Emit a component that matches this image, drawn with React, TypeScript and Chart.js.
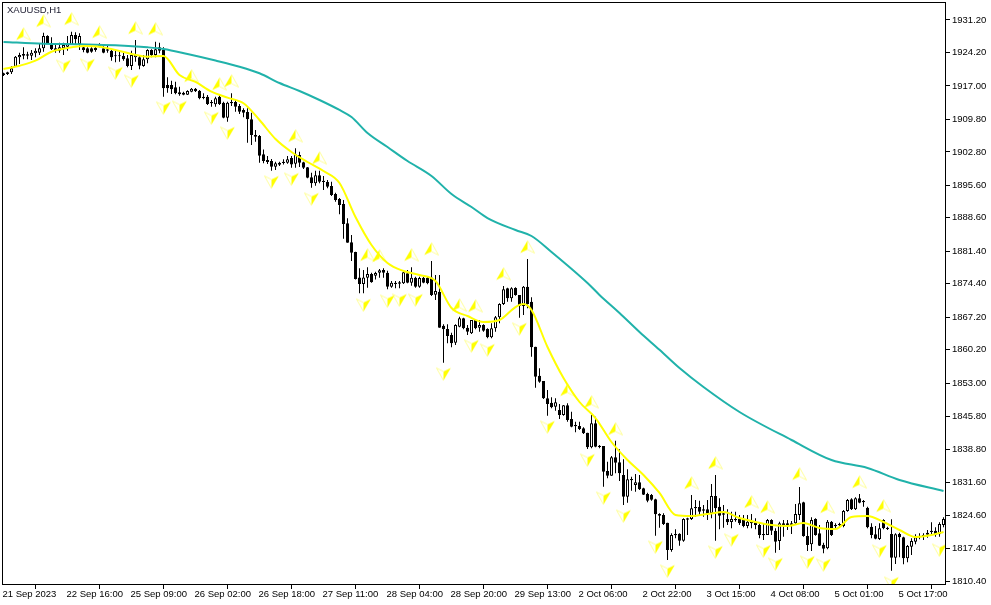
import React, { useEffect, useRef } from "react";
import { Chart, registerables } from "chart.js";

Chart.register(...registerables);

const chartTitle = "XAUUSD,H1";
const timeLabels = ["21 Sep 2023", "22 Sep 16:00", "25 Sep 09:00", "26 Sep 02:00", "26 Sep 18:00", "27 Sep 11:00", "28 Sep 04:00", "28 Sep 20:00", "29 Sep 13:00", "2 Oct 06:00", "2 Oct 22:00", "3 Oct 15:00", "4 Oct 08:00", "5 Oct 01:00", "5 Oct 17:00"];
const timeLabelStep = 16;
const priceTicks = [1931.2, 1924.2, 1917.0, 1909.8, 1902.8, 1895.6, 1888.6, 1881.4, 1874.4, 1867.2, 1860.2, 1853.0, 1845.8, 1838.8, 1831.6, 1824.6, 1817.4, 1810.4];

const opens = [
  1919.71, 1919.93, 1919.93, 1921.15, 1923.16, 1923.87, 1923.8, 1923.51, 1924.02, 1924.16,
  1925.09, 1927.75, 1925.81, 1925.09, 1924.59, 1925.09, 1925.45, 1925.81, 1927.96, 1926.03,
  1925.31, 1925.09, 1925.09, 1925.24, 1925.52, 1925.09, 1924.88, 1924.59, 1923.59, 1923.59,
  1923.44, 1922.94, 1921.29, 1923.16, 1923.16, 1921.29, 1922.72, 1924.73, 1923.66, 1925.31,
  1924.73, 1917.2, 1917.2, 1916.7, 1915.62, 1915.55, 1915.12, 1915.76, 1916.41, 1915.98,
  1914.69, 1914.69, 1913.54, 1913.04, 1914.69, 1913.39, 1910.17, 1913.54, 1913.54, 1912.68,
  1911.82, 1911.39, 1909.8, 1906.43, 1906.21, 1902.27, 1901.05, 1900.83, 1899.61, 1900.47,
  1900.4, 1900.47, 1901.48, 1900.26, 1902.12, 1900.55, 1899.47, 1897.32, 1896.02, 1897.75,
  1896.6, 1896.31, 1895.45, 1893.73, 1892.65, 1891.57, 1887.41, 1883.32, 1881.24, 1875.78,
  1874.35, 1875.71, 1876.5, 1876.14, 1876.79, 1877.36, 1876.79, 1873.77, 1874.64, 1874.71,
  1874.49, 1876.65, 1874.64, 1875.71, 1873.77, 1875.71, 1875.71, 1875.78, 1872.05, 1872.7,
  1865.38, 1864.66, 1863.37, 1861.72, 1865.17, 1866.96, 1864.95, 1863.73, 1866.6, 1864.95,
  1865.53, 1864.66, 1862.87, 1864.81, 1867.18, 1870.05, 1873.42, 1871.27, 1873.49, 1871.99,
  1869.62, 1873.78, 1870.55, 1860.86, 1854.62, 1853.47, 1849.74, 1848.81, 1847.95, 1847.23,
  1846.15, 1848.23, 1845.29, 1844.0, 1843.78, 1843.28, 1842.35, 1839.19, 1844.36, 1839.55,
  1839.48, 1834.09, 1833.09, 1837.04, 1835.96, 1833.23, 1828.57, 1832.37, 1831.08, 1831.65,
  1830.36, 1829.14, 1828.93, 1827.99, 1824.84, 1824.62, 1822.97, 1817.08, 1820.53, 1820.6,
  1819.09, 1823.9, 1823.76, 1826.34, 1826.34, 1825.84, 1825.84, 1824.98, 1828.71, 1826.41,
  1824.98, 1823.76, 1823.11, 1823.76, 1823.76, 1823.76, 1822.25, 1823.19, 1823.04, 1822.47,
  1820.53, 1820.32, 1823.55, 1821.25, 1819.02, 1822.83, 1822.83, 1822.83, 1822.83, 1824.62,
  1827.35, 1820.1, 1818.31, 1823.76, 1820.67, 1818.23, 1817.44, 1823.19, 1822.47, 1822.68,
  1822.25, 1825.48, 1828.0, 1825.84, 1828.21, 1827.64, 1826.2, 1822.11, 1820.46, 1819.45,
  1823.55, 1821.9, 1820.53, 1815.44, 1820.53, 1819.81, 1815.29, 1817.8, 1818.88, 1820.1,
  1820.32, 1820.39, 1821.25, 1821.25, 1820.46, 1822.47,
];

const closes = [
  1919.35, 1919.57, 1920.79, 1923.3, 1923.66, 1923.51, 1923.51, 1924.16, 1924.59, 1925.09,
  1927.75, 1926.17, 1924.88, 1924.59, 1925.31, 1925.81, 1926.03, 1927.96, 1927.03, 1927.75,
  1924.73, 1924.16, 1924.38, 1924.73, 1925.81, 1924.16, 1924.59, 1923.16, 1923.37, 1923.37,
  1922.72, 1921.29, 1923.66, 1923.66, 1921.36, 1922.72, 1924.73, 1923.66, 1924.88, 1924.59,
  1916.48, 1916.48, 1916.27, 1915.4, 1915.19, 1915.12, 1915.91, 1916.41, 1915.83, 1914.33,
  1914.4, 1913.11, 1913.25, 1914.33, 1913.11, 1910.17, 1913.39, 1913.25, 1912.53, 1911.46,
  1911.24, 1909.81, 1906.43, 1906.07, 1901.98, 1900.83, 1900.62, 1899.61, 1900.33, 1900.04,
  1900.69, 1901.19, 1900.11, 1902.27, 1900.47, 1899.4, 1897.24, 1896.02, 1897.75, 1896.38,
  1896.31, 1895.31, 1893.51, 1892.43, 1891.36, 1887.27, 1883.25, 1881.1, 1875.43, 1874.35,
  1875.78, 1876.5, 1874.71, 1876.72, 1877.29, 1876.79, 1873.77, 1874.64, 1874.35, 1874.42,
  1876.86, 1874.64, 1875.71, 1873.77, 1875.64, 1874.64, 1874.49, 1871.98, 1872.84, 1864.95,
  1864.59, 1863.16, 1861.58, 1865.53, 1866.96, 1864.81, 1864.09, 1866.6, 1864.81, 1865.53,
  1864.31, 1862.87, 1864.81, 1867.18, 1870.05, 1873.2, 1871.27, 1873.42, 1871.99, 1869.62,
  1873.78, 1870.05, 1860.72, 1854.4, 1853.33, 1849.74, 1848.52, 1847.8, 1848.88, 1846.15,
  1848.23, 1845.07, 1843.64, 1843.71, 1843.14, 1842.2, 1839.19, 1844.36, 1839.33, 1839.26,
  1833.95, 1833.09, 1837.04, 1835.89, 1833.59, 1828.57, 1832.3, 1832.08, 1831.65, 1830.15,
  1829.0, 1827.71, 1827.92, 1824.76, 1824.48, 1822.68, 1817.08, 1820.31, 1820.24, 1819.09,
  1823.76, 1823.62, 1826.06, 1826.06, 1825.34, 1825.55, 1824.84, 1828.71, 1826.06, 1824.48,
  1824.69, 1823.04, 1823.76, 1823.47, 1822.83, 1822.25, 1823.19, 1822.83, 1822.47, 1820.32,
  1820.24, 1823.55, 1821.25, 1818.88, 1822.83, 1822.25, 1822.47, 1822.47, 1824.84, 1827.13,
  1820.1, 1818.16, 1823.55, 1820.32, 1818.02, 1817.37, 1823.19, 1820.32, 1822.18, 1822.4,
  1825.48, 1827.85, 1825.84, 1828.21, 1827.28, 1827.35, 1821.97, 1820.32, 1819.53, 1821.75,
  1821.75, 1821.61, 1815.44, 1820.46, 1819.81, 1815.29, 1817.95, 1819.02, 1819.81, 1819.81,
  1820.03, 1820.82, 1820.96, 1820.39, 1822.68, 1823.76,
];

const highs = [
  1919.85, 1920.07, 1921.29, 1923.44, 1924.16, 1925.31, 1924.38, 1924.73, 1925.09, 1926.17,
  1928.47, 1927.89, 1927.46, 1926.17, 1926.31, 1926.31, 1927.75, 1928.68, 1928.54, 1928.32,
  1926.03, 1925.31, 1925.31, 1925.45, 1926.17, 1926.03, 1925.6, 1924.73, 1924.73, 1924.38,
  1924.38, 1923.66, 1924.59, 1926.89, 1923.66, 1923.66, 1924.88, 1924.88, 1926.53, 1926.31,
  1925.31, 1918.85, 1918.13, 1917.92, 1916.84, 1915.76, 1916.05, 1916.55, 1916.55, 1916.12,
  1915.4, 1915.05, 1913.97, 1914.69, 1915.19, 1913.61, 1913.61, 1915.4, 1913.97, 1913.11,
  1912.17, 1912.17, 1911.2, 1907.5, 1906.43, 1903.34, 1901.91, 1901.26, 1900.69, 1900.69,
  1901.19, 1901.91, 1901.91, 1903.56, 1902.84, 1900.69, 1899.54, 1898.32, 1898.75, 1898.75,
  1897.6, 1896.74, 1896.38, 1894.01, 1892.87, 1892.43, 1888.49, 1884.9, 1881.31, 1877.72,
  1877.36, 1877.94, 1876.79, 1877.0, 1877.58, 1877.72, 1877.22, 1875.0, 1875.0, 1875.0,
  1877.36, 1877.36, 1877.94, 1875.93, 1875.93, 1875.86, 1876.07, 1879.3, 1876.29, 1876.29,
  1865.67, 1865.67, 1863.87, 1865.67, 1867.32, 1867.11, 1865.53, 1866.6, 1866.75, 1866.6,
  1865.67, 1864.81, 1865.88, 1867.46, 1870.19, 1873.92, 1873.56, 1873.64, 1873.64, 1871.99,
  1873.92, 1879.74, 1871.48, 1860.86, 1856.2, 1853.47, 1851.53, 1849.95, 1849.74, 1848.52,
  1848.3, 1848.66, 1846.87, 1844.72, 1844.72, 1843.5, 1842.35, 1846.15, 1845.79, 1839.69,
  1839.48, 1836.1, 1837.32, 1840.62, 1838.76, 1836.61, 1834.45, 1832.87, 1833.45, 1833.23,
  1830.5, 1829.43, 1829.14, 1828.14, 1824.98, 1824.98, 1822.97, 1820.67, 1821.53, 1820.67,
  1823.9, 1824.05, 1828.93, 1827.85, 1827.71, 1826.77, 1827.85, 1831.29, 1833.23, 1828.21,
  1826.77, 1825.84, 1825.34, 1825.34, 1824.62, 1824.62, 1824.62, 1824.84, 1823.9, 1822.83,
  1822.83, 1823.76, 1823.69, 1821.75, 1823.19, 1823.55, 1823.55, 1823.33, 1826.99, 1830.65,
  1827.49, 1822.11, 1824.12, 1823.9, 1822.47, 1818.67, 1823.55, 1823.33, 1822.83, 1822.97,
  1825.7, 1828.07, 1828.21, 1828.43, 1829.14, 1827.85, 1826.42, 1822.83, 1822.25, 1822.83,
  1823.69, 1822.11, 1823.69, 1820.67, 1820.82, 1819.96, 1818.16, 1819.6, 1820.46, 1820.67,
  1820.67, 1821.39, 1823.04, 1821.97, 1823.04, 1824.12,
];

const lows = [
  1919.14, 1919.35, 1919.57, 1921.15, 1921.72, 1922.72, 1922.72, 1922.58, 1923.16, 1923.66,
  1924.38, 1926.03, 1924.73, 1924.16, 1924.16, 1923.66, 1924.59, 1925.81, 1925.81, 1924.73,
  1924.23, 1924.02, 1924.16, 1924.38, 1925.31, 1924.02, 1924.16, 1922.44, 1922.08, 1922.22,
  1922.44, 1921.0, 1920.43, 1922.22, 1920.57, 1921.15, 1921.86, 1923.16, 1923.16, 1924.02,
  1914.69, 1915.55, 1915.26, 1915.19, 1914.9, 1914.97, 1915.05, 1915.62, 1915.69, 1914.11,
  1914.11, 1912.89, 1912.53, 1912.53, 1912.89, 1910.02, 1909.3, 1912.68, 1911.46, 1910.95,
  1910.24, 1904.78, 1904.28, 1905.0, 1900.47, 1900.33, 1900.19, 1898.75, 1898.89, 1899.76,
  1900.11, 1900.26, 1899.4, 1899.4, 1899.54, 1899.11, 1897.1, 1895.09, 1895.52, 1896.02,
  1894.59, 1894.95, 1893.3, 1892.08, 1889.35, 1884.11, 1883.25, 1879.3, 1875.35, 1872.34,
  1872.34, 1873.56, 1874.64, 1875.35, 1875.71, 1875.71, 1873.2, 1873.56, 1873.42, 1873.42,
  1874.35, 1874.49, 1873.99, 1873.56, 1873.56, 1874.49, 1874.28, 1871.77, 1870.9, 1864.95,
  1857.42, 1861.58, 1860.72, 1861.22, 1865.02, 1864.59, 1863.37, 1863.59, 1864.59, 1864.09,
  1864.09, 1862.65, 1862.65, 1864.09, 1865.88, 1869.83, 1870.55, 1870.55, 1871.84, 1867.1,
  1867.68, 1869.11, 1858.71, 1852.03, 1853.11, 1849.59, 1846.01, 1847.59, 1847.08, 1845.29,
  1846.01, 1844.72, 1843.5, 1842.42, 1842.92, 1842.06, 1838.83, 1838.97, 1839.19, 1838.97,
  1830.72, 1832.51, 1833.09, 1833.59, 1831.94, 1826.77, 1827.28, 1829.86, 1829.64, 1830.0,
  1828.93, 1827.35, 1827.71, 1820.17, 1821.89, 1822.47, 1814.93, 1816.73, 1819.6, 1818.02,
  1818.88, 1820.31, 1823.54, 1824.26, 1824.62, 1824.26, 1823.54, 1823.9, 1819.09, 1821.53,
  1821.89, 1822.47, 1821.75, 1823.18, 1822.47, 1821.97, 1821.75, 1821.75, 1821.54, 1819.6,
  1819.24, 1820.32, 1820.32, 1816.51, 1817.09, 1819.96, 1821.39, 1820.53, 1822.47, 1823.55,
  1819.96, 1816.87, 1816.87, 1820.17, 1817.95, 1816.37, 1817.23, 1820.1, 1821.54, 1822.25,
  1821.97, 1825.34, 1825.7, 1825.7, 1827.13, 1826.42, 1821.75, 1819.6, 1819.38, 1819.24,
  1821.54, 1821.39, 1812.64, 1814.07, 1815.51, 1814.0, 1814.43, 1816.01, 1818.31, 1819.38,
  1819.24, 1819.74, 1820.32, 1819.96, 1819.96, 1821.97,
];

const fastMaBars = [0, 4, 8, 12, 16, 20, 24, 28, 32, 36, 40, 44, 48, 52, 56, 60, 64, 68, 72, 76, 80, 84, 88, 92, 96, 100, 104, 108, 112, 116, 120, 124, 128, 130, 132, 136, 140, 144, 148, 152, 156, 160, 164, 168, 172, 176, 180, 184, 188, 192, 196, 200, 204, 208, 212, 216, 220, 224, 228, 232, 235];
const fastMaValues = [1920.64, 1921.35, 1922.43, 1924.37, 1925.17, 1925.6, 1925.45, 1924.74, 1923.87, 1923.29, 1923.44, 1919.35, 1917.85, 1915.76, 1914.47, 1913.26, 1909.66, 1905.57, 1902.77, 1900.62, 1898.68, 1896.1, 1888.78, 1882.75, 1878.88, 1877.15, 1876.29, 1875.0, 1869.19, 1867.47, 1866.17, 1866.6, 1869.4, 1870.05, 1868.76, 1860.79, 1854.12, 1848.95, 1845.5, 1840.34, 1836.46, 1833.23, 1829.36, 1824.62, 1824.4, 1824.84, 1825.27, 1823.97, 1823.11, 1822.47, 1822.25, 1822.9, 1821.82, 1821.6, 1824.19, 1824.4, 1823.11, 1821.39, 1819.88, 1820.31, 1820.96];

const slowMaBars = [0, 10, 19, 28, 36, 40, 46, 53, 59, 64, 69, 74, 79, 84, 87, 91, 96, 101, 107, 112, 117, 121, 128, 132, 137, 146, 149, 154, 159, 164, 169, 175, 184, 197, 207, 216, 224, 235];
const slowMaValues = [1926.46, 1926.09, 1925.96, 1925.75, 1925.32, 1924.95, 1923.87, 1922.47, 1921.14, 1919.72, 1917.63, 1915.91, 1913.97, 1911.82, 1910.31, 1906.87, 1903.85, 1900.84, 1897.61, 1893.73, 1890.93, 1888.56, 1885.98, 1884.69, 1881.25, 1874.57, 1872.0, 1868.11, 1864.02, 1860.2, 1856.27, 1852.18, 1846.8, 1840.77, 1836.46, 1834.74, 1832.16, 1829.79];

const upArrowBars = [5, 10, 17, 24, 33, 38, 47, 54, 57, 73, 79, 91, 94, 102, 107, 114, 118, 125, 131, 141, 147, 153, 172, 178, 187, 191, 199, 206, 214, 220];
const upArrowValues = [1928.18, 1930.98, 1931.41, 1928.61, 1929.47, 1929.26, 1919.14, 1917.41, 1918.06, 1906.22, 1901.48, 1880.6, 1880.38, 1880.6, 1881.89, 1869.83, 1869.62, 1876.51, 1882.32, 1851.53, 1848.95, 1843.14, 1831.51, 1835.82, 1827.42, 1826.34, 1833.45, 1826.34, 1831.72, 1826.56];

const downArrowBars = [15, 21, 28, 32, 40, 44, 52, 56, 67, 72, 77, 90, 96, 99, 103, 110, 117, 121, 129, 136, 146, 150, 155, 163, 166, 178, 182, 190, 193, 201, 205, 219, 222, 234];
const downArrowValues = [1921.29, 1921.51, 1919.78, 1918.06, 1912.25, 1912.46, 1910.09, 1906.87, 1896.32, 1896.96, 1892.66, 1869.83, 1870.69, 1870.91, 1870.91, 1854.98, 1861.01, 1860.14, 1864.67, 1843.57, 1836.46, 1828.28, 1824.4, 1817.73, 1812.56, 1816.65, 1819.24, 1816.87, 1814.07, 1814.5, 1813.86, 1816.87, 1809.98, 1817.08];

const FONT = { family: "'Liberation Sans', sans-serif", size: 9.5 };
const YELLOW = "#ffff00";

function arrowImage(up: boolean): HTMLCanvasElement {
  const c = document.createElement("canvas");
  c.width = 15;
  c.height = 15;
  const g = c.getContext("2d")!;
  const tipY = up ? 1 : 14;
  const cornerY = up ? 13.5 : 1.5;
  const notchY = up ? 10 : 5;
  const solidX = up ? 0.2 : 14.8;
  const hollowX = up ? 14.5 : 0.5;
  g.fillStyle = YELLOW;
  g.beginPath();
  g.moveTo(7.5, tipY);
  g.lineTo(solidX, cornerY);
  g.lineTo(7.5, notchY);
  g.closePath();
  g.fill();
  g.strokeStyle = "#ffff70";
  g.lineWidth = 0.7;
  g.beginPath();
  g.moveTo(7.5, tipY);
  g.lineTo(hollowX, cornerY);
  g.lineTo(7.5, notchY);
  g.stroke();
  return c;
}

const frameAndTitle = {
  id: "frameAndTitle",
  afterDraw(chart: any) {
    const { ctx, chartArea: a } = chart;
    ctx.save();
    ctx.strokeStyle = "#000";
    ctx.lineWidth = 1;
    ctx.strokeRect(a.left + 0.5, a.top + 0.5, a.right - a.left - 1, a.bottom - a.top - 1);
    ctx.fillStyle = "#1a1a2e";
    ctx.font = `${FONT.size}px ${FONT.family}`;
    ctx.textBaseline = "middle";
    ctx.fillText(chartTitle, a.left + 5, a.top + 8);
    ctx.restore();
  },
};

export default function App() {
  const ref = useRef<HTMLCanvasElement | null>(null);
  useEffect(() => {
    if (!ref.current) return;
    const bars = opens.map((_, i) => i);
    const bodyColor = bars.map((i) => (closes[i] > opens[i] ? "#ffffff" : "#000000"));
    const chart = new Chart(ref.current, {
      type: "bar",
      data: {
        datasets: [
          {
            type: "bar",
            label: "Range",
            data: bars.map((i) => ({ x: i, y: [lows[i], highs[i]] })),
            barThickness: 1,
            backgroundColor: "#000",
            borderWidth: 0,
            inflateAmount: 0,
            grouped: false,
            order: 6,
          },
          {
            type: "bar",
            label: "Body",
            data: bars.map((i) => ({ x: i, y: [opens[i], closes[i]] })),
            barThickness: 3,
            backgroundColor: bodyColor,
            borderColor: "#000",
            borderWidth: 1,
            borderSkipped: false,
            inflateAmount: 0,
            grouped: false,
            order: 5,
          },
          {
            type: "line",
            label: "Up arrows",
            data: upArrowBars.map((x, k) => ({ x, y: upArrowValues[k] })),
            showLine: false,
            pointStyle: arrowImage(true),
            pointRadius: 7,
            order: 4,
          },
          {
            type: "line",
            label: "Down arrows",
            data: downArrowBars.map((x, k) => ({ x, y: downArrowValues[k] })),
            showLine: false,
            pointStyle: arrowImage(false),
            pointRadius: 7,
            order: 3,
          },
          {
            type: "line",
            label: "Slow MA",
            data: slowMaBars.map((x, k) => ({ x, y: slowMaValues[k] })),
            borderColor: "#20b2aa",
            borderWidth: 2,
            pointRadius: 0,
            cubicInterpolationMode: "monotone",
            order: 2,
          },
          {
            type: "line",
            label: "Fast MA",
            data: fastMaBars.map((x, k) => ({ x, y: fastMaValues[k] })),
            borderColor: YELLOW,
            borderWidth: 2,
            pointRadius: 0,
            cubicInterpolationMode: "monotone",
            order: 1,
          },
        ],
      } as any,
      options: {
        responsive: false,
        animation: false,
        devicePixelRatio: 1,
        layout: { autoPadding: false, padding: { left: 2, top: 2, right: 0, bottom: 0 } },
        plugins: { legend: { display: false }, tooltip: { enabled: false }, title: { display: false } },
        scales: {
          x: {
            type: "linear",
            offset: false,
            min: -0.375,
            max: 235.625,
            afterFit(s: any) {
              s.height = 20;
              s.paddingLeft = 0;
              s.paddingRight = 0;
            },
            afterBuildTicks(s: any) {
              s.ticks = timeLabels.map((_, k) => ({ value: k * timeLabelStep }));
            },
            grid: { display: true, drawOnChartArea: false, drawTicks: true, tickLength: 4, color: "#000" },
            border: { display: false },
            ticks: {
              autoSkip: false,
              maxRotation: 0,
              minRotation: 0,
              align: "start",
              labelOffset: -1,
              padding: 0,
              color: "#000",
              font: FONT,
              callback: (v: any) => timeLabels[Math.round(Number(v) / timeLabelStep)],
            },
          },
          y: {
            type: "linear",
            position: "right",
            min: 1809.55,
            max: 1935.07,
            afterFit(s: any) {
              s.width = 45;
              s.paddingTop = 0;
              s.paddingBottom = 0;
            },
            afterBuildTicks(s: any) {
              s.ticks = priceTicks.map((value) => ({ value }));
            },
            grid: { display: true, drawOnChartArea: false, drawTicks: true, tickLength: 4, color: "#000" },
            border: { display: false },
            ticks: {
              autoSkip: false,
              padding: 2,
              color: "#000",
              font: FONT,
              callback: (v: any) => Number(v).toFixed(2),
            },
          },
        },
      } as any,
      plugins: [frameAndTitle],
    });
    return () => chart.destroy();
  }, []);
  return (
    <div style={{ position: "absolute", left: 0, top: 0, width: 991, height: 605, background: "#fff" }}>
      <canvas ref={ref} width={991} height={605} style={{ display: "block" }} />
    </div>
  );
}
